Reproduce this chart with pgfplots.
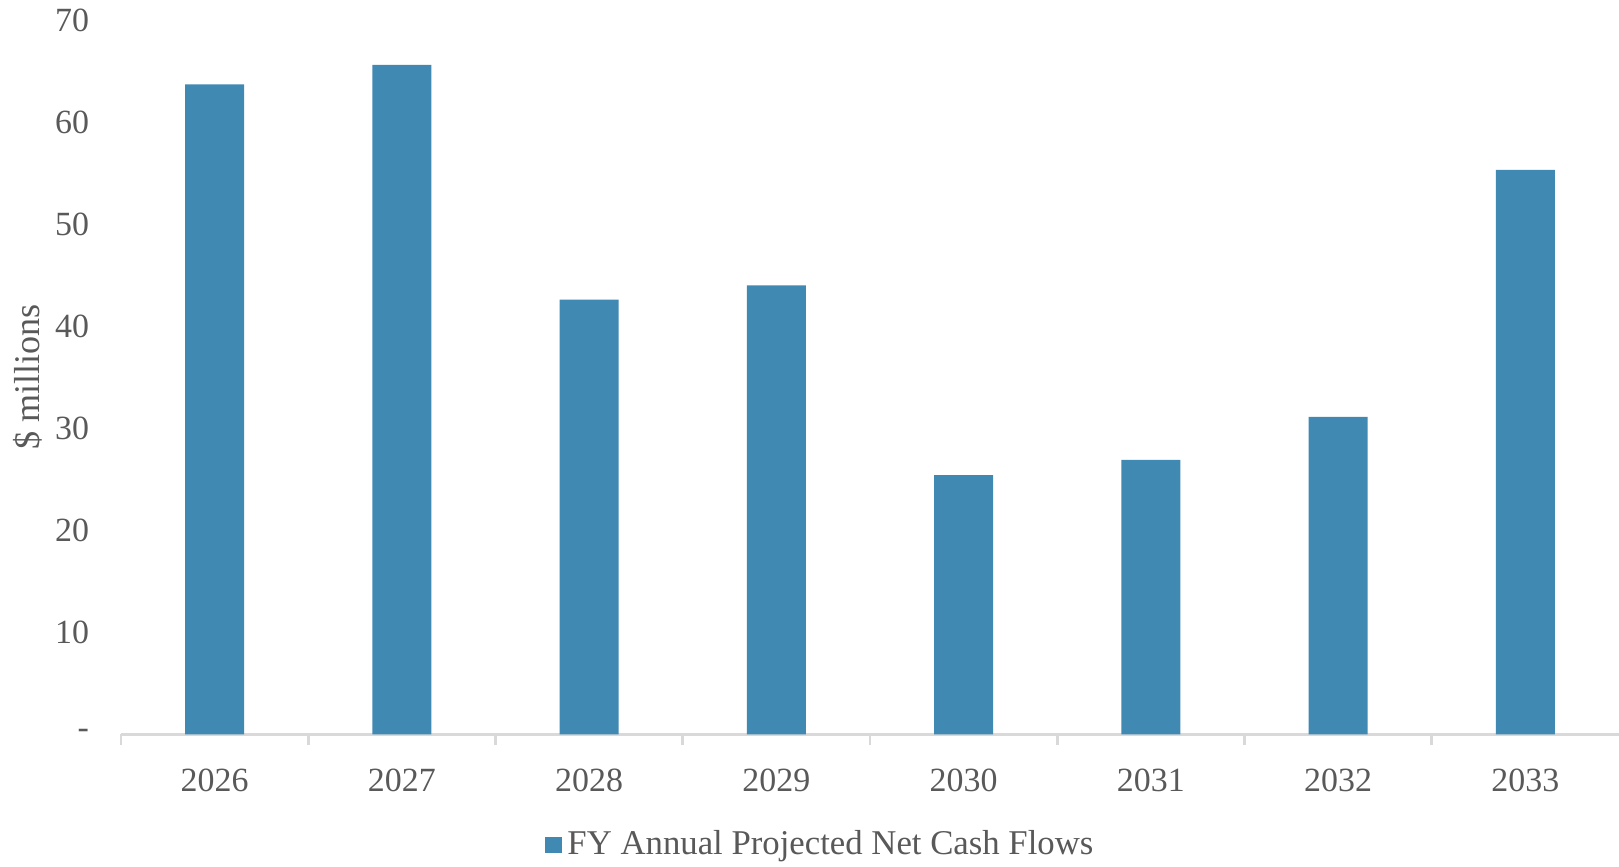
\documentclass[border=0pt]{standalone}
\usepackage{fontspec}
\setmainfont{Liberation Serif}
\usepackage{pgfplots}
\pgfplotsset{compat=1.18}

\definecolor{barblue}{HTML}{4089B3}
\definecolor{txtgray}{HTML}{595959}
\definecolor{axgray}{HTML}{D9D9D9}

\begin{document}
\begin{tikzpicture}
    \begin{axis}[
        name=ax,
        width=539pt,
        height=257pt,
        scale only axis,
        ybar,
        bar width=0.315,
        xmin=-0.5, xmax=7.5,
        ymin=0, ymax=70,
        xtick={0,...,7},
        xticklabels={2026,2027,2028,2029,2030,2031,2032,2033},
        ytick={0,10,...,70},
        yticklabels={-,10,20,30,40,50,60,70},
        major tick length=0pt,
        extra x ticks={-0.5,0.5,...,6.5},
        extra x tick labels={},
        extra x tick style={
            major tick length=4pt,
            tick align=outside,
        },
        tick style={draw=axgray, line width=1pt},
        axis x line*=bottom,
        axis y line*=left,
        x axis line style={draw=axgray, line width=1pt, -},
        y axis line style={draw=none},
        tick label style={font=\fontsize{12.2}{14}\selectfont, text=txtgray},
        xticklabel style={yshift=-8.9pt},
        yticklabel style={xshift=-8pt},
        ylabel={\$ millions},
        every axis y label/.style={
            at={(rel axis cs:-0.0621,0.5)}, rotate=90, anchor=center,
            font=\fontsize{13}{15}\selectfont, text=txtgray},
        legend style={
            at={(rel axis cs:0.468,-0.155)},
            anchor=center,
            draw=none,
            font=\fontsize{12.5}{15}\selectfont,
            text=txtgray,
        },
        legend image code/.code={
            \fill[barblue] (-0.8pt,-3pt) rectangle (5.2pt,3pt);
        },
        clip=false,
    ]
    \addplot[fill=barblue, draw=none] coordinates {
        (0, 63.7)
        (1, 65.6)
        (2, 42.6)
        (3, 44.0)
        (4, 25.4)
        (5, 26.9)
        (6, 31.1)
        (7, 55.3)
    };
    \addlegendentry{FY Annual Projected Net Cash Flows}

    \coordinate (bl) at (rel axis cs:-0.0808,-0.1849);
    \coordinate (tr) at (rel axis cs:1,1.028);
    \end{axis}
    \pgfresetboundingbox
    \path (bl) rectangle (tr);
\end{tikzpicture}
\end{document}
